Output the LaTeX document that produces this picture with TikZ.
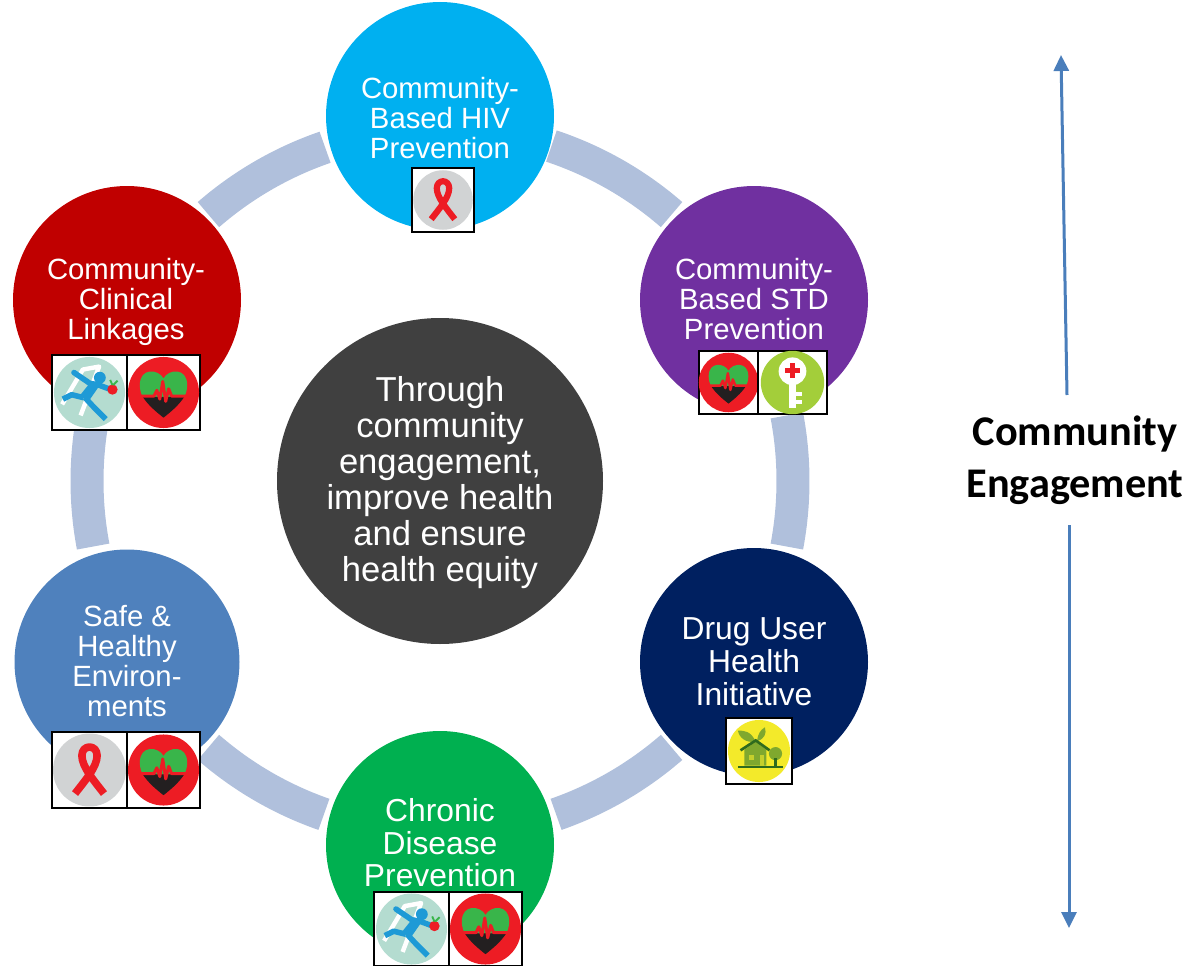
\documentclass[tikz,border=0pt]{standalone}
\usepackage{fontspec}
\setmainfont{Liberation Sans}
\newfontfamily\calfont{Carlito}
\usetikzlibrary{arrows.meta}
\definecolor{ringc}{HTML}{B0C0DC}
\definecolor{arrowc}{HTML}{4A7EBB}
\definecolor{icred}{HTML}{ED1C24}
\definecolor{icgreen}{HTML}{39B54A}
\definecolor{icblack}{HTML}{231F20}
\definecolor{icgray}{HTML}{D1D3D4}
\definecolor{ickey}{HTML}{A3CE3A}
\definecolor{icyellow}{HTML}{F3EA2A}
\definecolor{ichouse}{HTML}{7FA82E}
\definecolor{icdark}{HTML}{2F6B1E}
\definecolor{icmint}{HTML}{B4DCD0}
\definecolor{icblue}{HTML}{1E9AD6}
\definecolor{cTop}{HTML}{00B0F0}
\definecolor{cUR}{HTML}{7030A0}
\definecolor{cLR}{HTML}{002060}
\definecolor{cBot}{HTML}{00B050}
\definecolor{cLL}{HTML}{4F81BD}
\definecolor{cUL}{HTML}{C00000}
\definecolor{cHub}{HTML}{404040}
\tikzset{
  bubble/.style={circle,inner sep=0pt,minimum size=228pt},
  lab/.style={align=center,text=white,inner sep=0pt,font=\fontsize{29.3}{30.2}\selectfont},
  hublab/.style={align=center,text=white,inner sep=0pt,font=\fontsize{34.6}{36}\selectfont},
  sidelab/.style={align=center,text=black,inner sep=0pt,font=\calfont\bfseries\fontsize{42.3}{52}\selectfont},
  ringseg/.style={draw=ringc,line width=33pt},
  iconbox/.style={draw=black,line width=2pt,fill=white},
  conn/.style={draw=arrowc,line width=3pt,-{Triangle[length=16pt,width=15pt]}},
}
\newcommand{\ringarc}[2]{\draw[ringseg,shift={(hub)}] plot[domain=#1:#2,samples=30] ({353*cos(\x)},{353*sin(\x)});}
% #1 centre, #2 scale
\newcommand{\iconheart}[2]{\begin{scope}[shift={(#1)},scale=#2]
  \fill[icred] (0,0) circle (48);
  \fill[icgreen] (0,-19) .. controls (-7,-32) and (-32,-34) .. (-32,-10) .. controls (-32,-3) and (-30,2) .. (-28,6) -- (28,6) .. controls (30,2) and (32,-3) .. (32,-10) .. controls (32,-34) and (7,-32) .. (0,-19) -- cycle;
  \fill[icblack] (-28,6) -- (28,6) .. controls (20,18) and (10,26) .. (0,34) .. controls (-10,26) and (-20,18) .. (-28,6) -- cycle;
  \draw[icred,line width=#2*4pt,line join=round] (-30,5) -- (-13,5) -- (-9,-3) -- (-5,9) -- (-1,-15) -- (3,12) -- (7,-5) -- (11,5) -- (30,5);
\end{scope}}
\newcommand{\iconribbon}[2]{\begin{scope}[shift={(#1)},scale=#2]
  \fill[icgray] (0,0) circle (48);
  \draw[icred,line width=#2*10pt,line join=round] (-19,31) .. controls (-6,14) and (10,-4) .. (10,-19) .. controls (10,-34) and (-10,-34) .. (-10,-19) .. controls (-10,-4) and (6,14) .. (19,31);
\end{scope}}
\newcommand{\iconkey}[2]{\begin{scope}[shift={(#1)},scale=#2]
  \fill[ickey] (0,0) circle (48);
  \fill[white] (0,-17) circle (21);
  \fill[white] (-6,-4) rectangle (6,38);
  \fill[white] (6,14) rectangle (15,20);
  \fill[white] (6,27) rectangle (15,33);
  \fill[icred] (-4,-29) rectangle (4,-7);
  \fill[icred] (-11,-22) rectangle (11,-14);
\end{scope}}
\newcommand{\iconhouse}[2]{\begin{scope}[shift={(#1)},scale=#2]
  \fill[icyellow] (0,0) circle (47);
  \fill[ichouse] (-5,-14) .. controls (-12,-30) and (-22,-31) .. (-32,-31) .. controls (-30,-20) and (-20,-12) .. (-5,-14) -- cycle;
  \fill[ichouse] (-3,-15) .. controls (-2,-25) and (2,-32) .. (9,-36) .. controls (12,-26) and (8,-18) .. (-3,-15) -- cycle;
  \fill[ichouse] (-22,-2) -- (-5,-14) -- (11,-2) -- (11,22) -- (-22,22) -- cycle;
  \fill[icyellow!60!ichouse] (-15,6) rectangle (-8,13);
  \fill[icyellow!60!ichouse] (1,6) rectangle (7,22);
  \draw[icdark,line width=#2*4pt] (-28,-1) -- (-5,-16) -- (16,-1);
  \fill[ichouse] (25,4) circle (10);
  \fill[icdark] (23,10) rectangle (27,23);
  \draw[icdark,line width=#2*4pt] (-32,24) -- (36,24);
\end{scope}}
\newcommand{\iconrunner}[2]{\begin{scope}[shift={(#1)},scale=#2]
  \fill[icmint] (0,0) circle (48);
  \draw[white,line width=#2*6pt,line join=round] (-37,16) -- (-9,-31) -- (13,-35) -- (-12,31);
  \fill[icblue] (14,-20) circle (8);
  \draw[icblue,line width=#2*7.5pt,line join=round,line cap=round] (-21,-27) -- (1,-12) -- (10,-11) -- (26,-5);
  \fill[icblue] (3,-16) -- (14,-10) -- (-2,13) -- (-13,4) -- cycle;
  \draw[icblue,line width=#2*7.5pt,line join=round] (-8,7) -- (-24,3) -- (-36,9);
  \draw[icblue,line width=#2*7.5pt,line join=round] (-6,7) -- (6,20) -- (22,36);
  \fill[icred] (31,-4) circle (7);
  \draw[icgreen,line width=#2*2.5pt] (31,-10) -- (28,-17);
  \draw[icgreen,line width=#2*2.5pt] (32,-10) -- (38,-16);
\end{scope}}
\newcommand{\iconframe}[4]{\draw[iconbox] (#1,#2) rectangle (#3,#4);}
\begin{document}
\begin{tikzpicture}[x=1pt,y=-1pt]
\useasboundingbox (0,0) rectangle (1192,966);
\coordinate (hub) at (440,481);
% ring segments
\ringarc{-71.6}{-49}
\ringarc{-10.7}{10.7}
\ringarc{49}{70.8}
\ringarc{109.2}{131}
\ringarc{169.3}{190.7}
\ringarc{229}{251}
% circles
\node[bubble,fill=cHub,minimum size=326pt] (center) at (hub) {};
\node[bubble,fill=cTop] (top) at (440,116) {};
\node[bubble,fill=cUR] (ur) at (754,300) {};
\node[bubble,fill=cLR] (lr) at (754,662) {};
\node[bubble,fill=cBot] (bot) at (440,845) {};
\node[bubble,fill=cLL,minimum size=225pt] (ll) at (127,662) {};
\node[bubble,fill=cUL] (ul) at (127,300) {};
% labels
\node[hublab] (tcenter) at (440,483) {Through\\community\\engagement,\\improve health\\and ensure\\health equity};
\node[lab] (ttop) at (440,118) {Community-\\Based HIV\\Prevention};
\node[lab] (tur) at (754,299) {Community-\\Based STD\\Prevention};
\node[lab,font=\fontsize{31.8}{33}\selectfont] (tlr) at (754,662) {Drug User\\Health\\Initiative};
\node[lab,font=\fontsize{31.8}{32.5}\selectfont] (tbot) at (440,843) {Chronic\\Disease\\Prevention};
\node[lab] (tll) at (127,661) {Safe \&\\Healthy\\Environ-\\ments};
\node[lab] (tul) at (126,302) {Community-\\Clinical\\Linkages};
% icons
\iconframe{412}{168}{474}{232}\iconribbon{443,200}{0.62}
\iconframe{52}{355}{127}{430}\iconrunner{89.5,392.5}{0.74}
\iconframe{127}{355}{200}{430}\iconheart{163.5,392.5}{0.74}
\iconframe{699}{351}{758}{414}\iconheart{728.5,382.5}{0.62}
\iconframe{758}{351}{827}{414}\iconkey{792.5,382.5}{0.66}
\iconframe{726}{718}{792}{784}\iconhouse{759,751}{0.66}
\iconframe{127}{732}{200}{808}\iconheart{163.5,770}{0.74}
\iconframe{52}{732}{127}{808}\iconribbon{89.5,770}{0.76}
\iconframe{374}{892}{449}{966}\iconrunner{411.5,929}{0.74}
\iconframe{449}{892}{522}{966}\iconheart{485.5,929}{0.74}
% side label and arrows
\node[sidelab] (side) at (1075,460) {Community\\Engagement};
\coordinate (upfrom) at (1067,395);
\coordinate (upto) at (1061,55);
\coordinate (downfrom) at (1069,525);
\coordinate (downto) at (1069,928);
\draw[conn] (upfrom) -- (upto);
\draw[conn] (downfrom) -- (downto);
\end{tikzpicture}
\end{document}
